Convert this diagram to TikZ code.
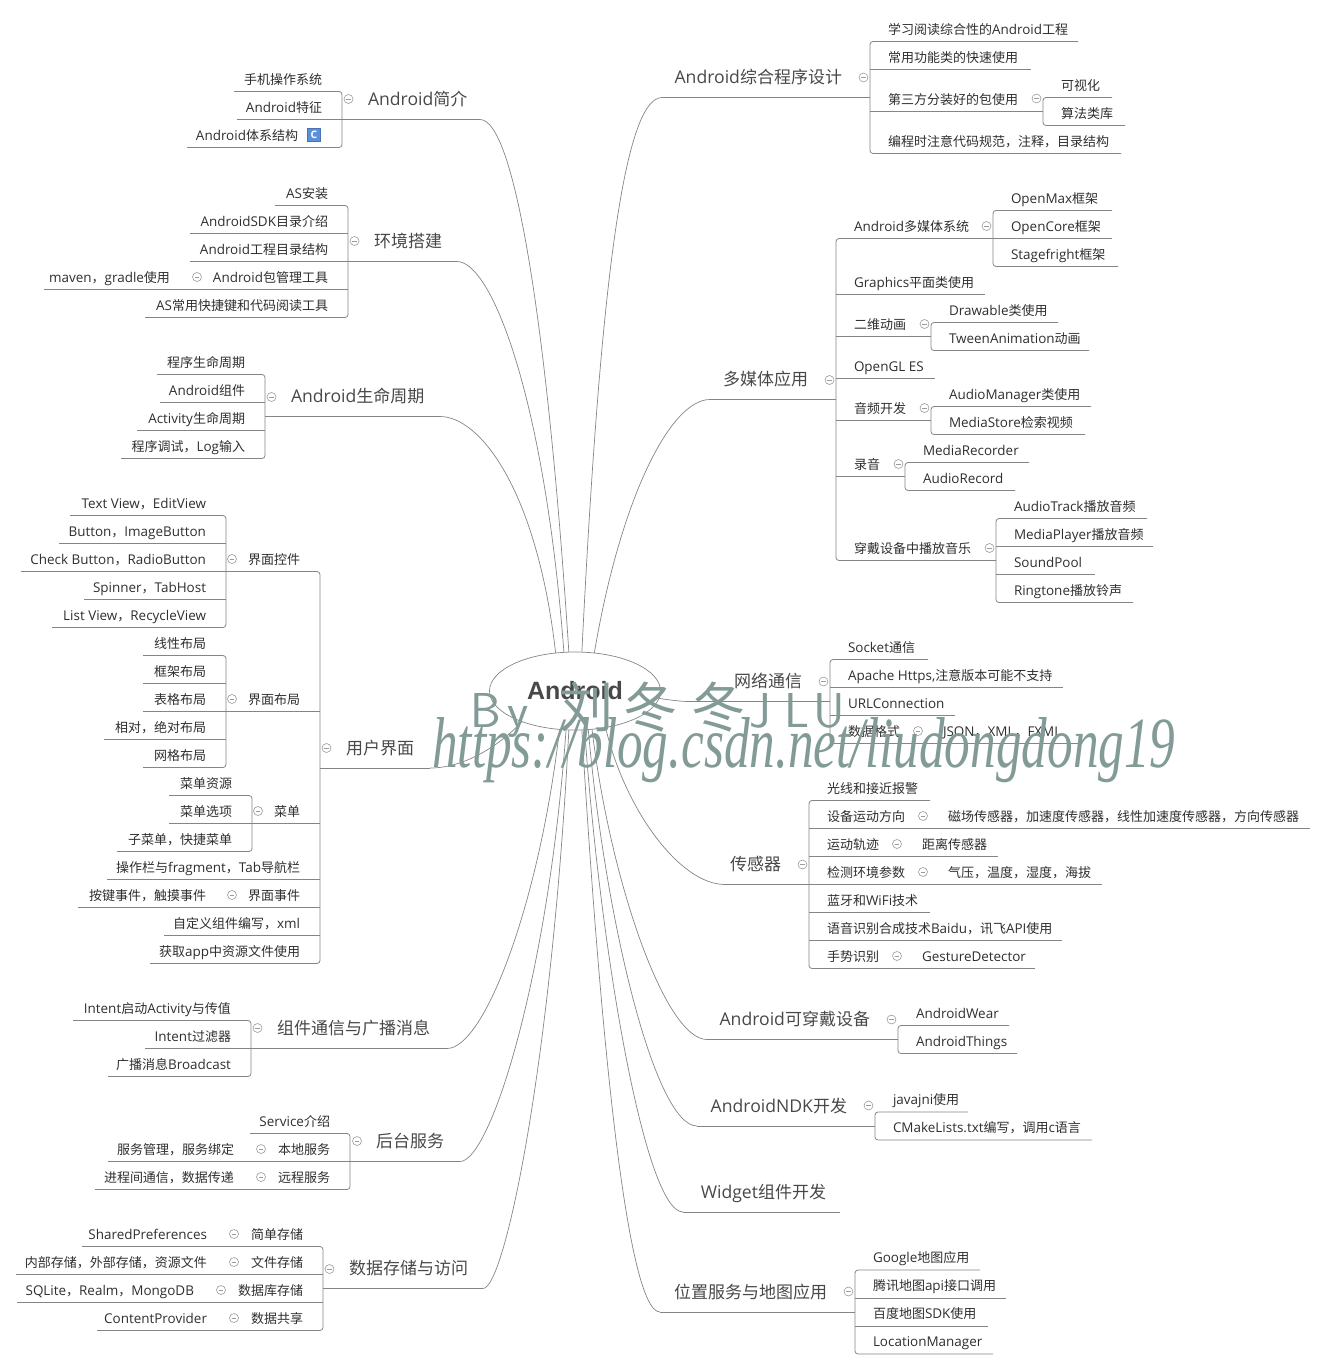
\documentclass[tikz,border=0pt]{standalone}
\usepackage{graphicx}
\usepackage{fontspec}
\usetikzlibrary{shapes.geometric}
\setmainfont{Open Sans}[Scale=1.035]
\newfontfamily\cjk{Noto Sans CJK SC}
\newfontfamily\urlfont{Liberation Serif}
\newfontfamily\rootfont{Liberation Sans}

% Chinese characters switch to the CJK family by themselves
\newXeTeXintercharclass\cjkclass
\newcount\cjkcode
\cjkcode="4E00
\loop
  \XeTeXcharclass\cjkcode=\cjkclass
  \ifnum\cjkcode<"9FFF \advance\cjkcode by 1
\repeat
\XeTeXcharclass"FF0C=\cjkclass
\XeTeXinterchartokenstate=1
\XeTeXinterchartoks 0 \cjkclass={\begingroup\cjk}
\XeTeXinterchartoks 4095 \cjkclass={\begingroup\cjk}
\XeTeXinterchartoks \cjkclass 0={\endgroup}
\XeTeXinterchartoks \cjkclass 4095={\endgroup}

\definecolor{linegray}{HTML}{858585}
\definecolor{foldgray}{HTML}{9A9A9A}
\definecolor{leaftext}{HTML}{2E2E2E}
\definecolor{maintext}{HTML}{484848}
\definecolor{markgreen}{HTML}{829B97}
\definecolor{iconblue}{HTML}{5B8FDC}

\tikzset{
  link/.style={draw=linegray, line width=0.8pt},
  curve/.style={draw=linegray, line width=0.7pt},
  itemnode/.style={anchor=south west, inner sep=0pt, outer sep=0pt, text=leaftext,
    font=\fontsize{13}{16}\selectfont, text height=10pt, text depth=7.5pt},
  mainnode/.style={anchor=south west, inner sep=0pt, outer sep=0pt, text=maintext,
    font=\fontsize{17}{20}\selectfont, text height=14pt, text depth=14pt},
  rootnode/.style={ellipse, draw=linegray, line width=0.7pt, minimum width=171pt, minimum height=78pt,
    inner sep=0pt, outer sep=0pt, text=maintext, font=\rootfont\bfseries\fontsize{25}{28}\selectfont},
  foldnode/.style={circle, draw=foldgray, fill=white, line width=0.6pt, minimum size=9pt, inner sep=0pt,
    path picture={\draw[foldgray, line width=0.6pt] ([xshift=2.2pt]path picture bounding box.west)
      -- ([xshift=-2.2pt]path picture bounding box.east);}},
  classicon/.style={fill=iconblue, draw=iconblue!80!black, line width=0.4pt, minimum size=13pt,
    inner sep=0pt, text=white, font=\bfseries\fontsize{10}{10}\selectfont},
  markurl/.style={anchor=north west, inner sep=0pt, text=markgreen},
  markby/.style={anchor=base west, inner sep=0pt, text=markgreen}
}

% name, x left, x right, y of the line under it, text
\newcommand{\itemR}[5]{\pgfmathsetmacro{\boxw}{#3-#2}%
  \node[itemnode] (#1) at (#2,#4) {\makebox[\boxw pt][l]{\hspace{18pt}#5}};}
\newcommand{\itemL}[5]{\pgfmathsetmacro{\boxw}{#3-#2}%
  \node[itemnode] (#1) at (#2,#4) {\makebox[\boxw pt][r]{#5\hspace{20pt}}};}
\newcommand{\mainR}[5]{\pgfmathsetmacro{\boxw}{#3-#2}%
  \node[mainnode] (#1) at (#2,#4) {\makebox[\boxw pt][r]{#5\hspace{28pt}}};}
\newcommand{\mainL}[5]{\pgfmathsetmacro{\boxw}{#3-#2}%
  \node[mainnode] (#1) at (#2,#4) {\makebox[\boxw pt][l]{\hspace{26pt}#5}};}
\newcommand{\markfold}[3]{\node[foldnode] (#1fold) at (#2,#3) {};}
% top item, items between (with the parent), bottom item
\newcommand{\spineR}[3]{\draw[link, rounded corners=3pt] (#1.south east) -- (#1.south west) -- (#3.south west) -- (#3.south east);
  \foreach \m in {#2} {\draw[link] (\m.south west) -- (\m.south east);}}
\newcommand{\spineL}[3]{\draw[link, rounded corners=3pt] (#1.south west) -- (#1.south east) -- (#3.south east) -- (#3.south west);
  \foreach \m in {#2} {\draw[link] (\m.south west) -- (\m.south east);}}

\begin{document}
\begin{tikzpicture}[x=1pt, y=-1pt]
  \useasboundingbox (0,0) rectangle (1327,1369);

  % Centre of the map
  \node[rootnode] (root) at (575,691) {Android};

  % Branch intro
  \mainL{intro}{342}{480}{119.5}{Android简介}
  \markfold{intro}{348.5}{99}
  \itemL{introa}{234}{342}{91.5}{手机操作系统}
  \itemL{introb}{237}{342}{119.5}{Android特征}
  \itemL{introc}{187}{342}{147.5}{Android体系结构\hspace{24pt}}
  \node[classicon] (introicon) at (314,135) {C};
  \spineL{introa}{introb,intro}{introc}
  \draw[curve] (intro.south east) .. controls (515,119.5) and (548,330) .. (root.99);

  % Branch env
  \mainL{env}{348}{457}{261.5}{环境搭建}
  \markfold{env}{354.5}{241}
  \itemL{enva}{275}{348}{205.5}{AS安装}
  \itemL{envb}{190}{348}{233.5}{AndroidSDK目录介绍}
  \itemL{envc}{190}{348}{261.5}{Android工程目录结构}
  \itemL{envd}{190}{348}{289.5}{Android包管理工具}
  \markfold{envd}{197}{277}
  \itemL{envdk}{44}{190}{289.5}{maven，gradle使用}
  \itemL{enve}{145}{348}{317.5}{AS常用快捷键和代码阅读工具}
  \spineL{enva}{envb,envc,envd,envdk,env}{enve}
  \draw[curve] (env.south east) .. controls (492,261.5) and (545,400) .. (root.106);

  % Branch life
  \mainL{life}{265}{440}{416.5}{Android生命周期}
  \markfold{life}{271.5}{397}
  \itemL{lifea}{157}{265}{374.5}{程序生命周期}
  \itemL{lifeb}{160}{265}{402.5}{Android组件}
  \itemL{lifec}{137}{265}{430.5}{Activity生命周期}
  \itemL{lifed}{121}{265}{458.5}{程序调试，Log输入}
  \spineL{lifea}{lifeb,lifec,life}{lifed}
  \draw[curve] (life.south east) .. controls (480,416.5) and (537,490) .. (root.117);

  % Branch ui
  \mainL{ui}{320}{430}{768}{用户界面}
  \markfold{ui}{326.5}{748}
  \itemL{uiw}{226}{320}{571.5}{界面控件}
  \markfold{uiw}{232}{559}
  \itemL{uiwa}{70}{226}{515.5}{Text View，EditView}
  \itemL{uiwb}{59}{226}{543.5}{Button，ImageButton}
  \itemL{uiwc}{21}{226}{571.5}{Check Button，RadioButton}
  \itemL{uiwd}{84}{226}{599.5}{Spinner，TabHost}
  \itemL{uiwe}{52}{226}{627.5}{List View，RecycleView}
  \spineL{uiwa}{uiwb,uiwc,uiwd}{uiwe}
  \itemL{uil}{226}{320}{711.5}{界面布局}
  \markfold{uil}{232}{699}
  \itemL{uila}{143}{226}{655.5}{线性布局}
  \itemL{uilb}{143}{226}{683.5}{框架布局}
  \itemL{uilc}{143}{226}{711.5}{表格布局}
  \itemL{uild}{104}{226}{739.5}{相对，绝对布局}
  \itemL{uile}{143}{226}{767.5}{网格布局}
  \spineL{uila}{uilb,uilc,uild}{uile}
  \itemL{uim}{252}{320}{823.5}{菜单}
  \markfold{uim}{258}{811}
  \itemL{uima}{169}{252}{795.5}{菜单资源}
  \itemL{uimb}{169}{252}{823.5}{菜单选项}
  \itemL{uimc}{117}{252}{851.5}{子菜单，快捷菜单}
  \spineL{uima}{uimb}{uimc}
  \itemL{uin}{107}{320}{879.5}{操作栏与fragment，Tab导航栏}
  \itemL{uie}{226}{320}{907.5}{界面事件}
  \markfold{uie}{232}{895}
  \itemL{uiek}{78}{226}{907.5}{按键事件，触摸事件}
  \itemL{uic}{164}{320}{935.5}{自定义组件编写，xml}
  \itemL{uir}{150}{320}{963.5}{获取app中资源文件使用}
  \spineL{uiw}{uil,uim,uin,uie,uiek,uic,ui}{uir}
  \draw[curve] (ui.south east) .. controls (465,768) and (500,745) .. (root.-150);

  % Branch msg
  \mainL{msg}{251}{447}{1048.5}{组件通信与广播消息}
  \markfold{msg}{257.5}{1028}
  \itemL{msga}{73}{251}{1020.5}{Intent启动Activity与传值}
  \itemL{msgb}{145}{251}{1048.5}{Intent过滤器}
  \itemL{msgc}{108}{251}{1076.5}{广播消息Broadcast}
  \spineL{msga}{msgb,msg}{msgc}
  \draw[curve] (msg.south east) .. controls (485,1048.5) and (540,900) .. (root.-112);

  % Branch srv
  \mainL{srv}{350}{460}{1161.5}{后台服务}
  \markfold{srv}{357}{1141}
  \itemL{srva}{250}{350}{1133.5}{Service介绍}
  \itemL{srvb}{254}{350}{1161.5}{本地服务}
  \markfold{srvb}{261}{1149}
  \itemL{srvbk}{108}{254}{1161.5}{服务管理，服务绑定}
  \itemL{srvc}{254}{350}{1189.5}{远程服务}
  \markfold{srvc}{261}{1177}
  \itemL{srvck}{95}{254}{1189.5}{进程间通信，数据传递}
  \spineL{srva}{srvb,srvbk,srvck,srv}{srvc}
  \draw[curve] (srv.south east) .. controls (490,1161.5) and (548,980) .. (root.-103);

  % Branch store
  \mainL{store}{323}{483}{1288.5}{数据存储与访问}
  \markfold{store}{329.5}{1269}
  \itemL{storea}{227}{323}{1246.5}{简单存储}
  \markfold{storea}{234}{1234}
  \itemL{storeak}{82}{227}{1246.5}{SharedPreferences}
  \itemL{storeb}{227}{323}{1274.5}{文件存储}
  \markfold{storeb}{234}{1262}
  \itemL{storebk}{16}{227}{1274.5}{内部存储，外部存储，资源文件}
  \itemL{storec}{214}{323}{1302.5}{数据库存储}
  \markfold{storec}{221}{1290}
  \itemL{storeck}{17}{214}{1302.5}{SQLite，Realm，MongoDB}
  \itemL{stored}{227}{323}{1330.5}{数据共享}
  \markfold{stored}{234}{1318}
  \itemL{storedk}{97}{227}{1330.5}{ContentProvider}
  \spineL{storea}{storeak,storeb,storebk,storec,storeck,storedk,store}{stored}
  \draw[curve] (store.south east) .. controls (505,1288.5) and (552,1060) .. (root.-99);

  % Branch prog
  \mainR{prog}{662}{870}{97.5}{Android综合程序设计}
  \markfold{prog}{863.5}{77.5}
  \itemR{proga}{870}{1078}{41.5}{学习阅读综合性的Android工程}
  \itemR{progb}{870}{1031}{69.5}{常用功能类的快速使用}
  \itemR{progc}{870}{1043}{111.5}{第三方分装好的包使用}
  \markfold{progc}{1036.5}{98.5}
  \itemR{progca}{1043}{1112}{97.5}{可视化}
  \itemR{progcb}{1043}{1125}{125.5}{算法类库}
  \spineR{progca}{progc}{progcb}
  \itemR{progd}{870}{1121}{153.5}{编程时注意代码规范，注释，目录结构}
  \spineR{proga}{progb,prog}{progd}
  \draw[curve] (prog.south west) .. controls (620,97.5) and (598,330) .. (root.80);

  % Branch media
  \mainR{media}{710}{836}{399.5}{多媒体应用}
  \markfold{media}{829.5}{380}
  \itemR{mediaa}{836}{993}{238.5}{Android多媒体系统}
  \markfold{mediaa}{986.5}{226}
  \itemR{mediaaa}{993}{1112}{210.5}{OpenMax框架}
  \itemR{mediaab}{993}{1112}{238.5}{OpenCore框架}
  \itemR{mediaac}{993}{1118}{266.5}{Stagefright框架}
  \spineR{mediaaa}{mediaab}{mediaac}
  \itemR{mediab}{836}{985}{294.5}{Graphics平面类使用}
  \itemR{mediac}{836}{931}{336.5}{二维动画}
  \markfold{mediac}{924.5}{324}
  \itemR{mediaca}{931}{1058}{322.5}{Drawable类使用}
  \itemR{mediacb}{931}{1089}{350.5}{TweenAnimation动画}
  \spineR{mediaca}{mediac}{mediacb}
  \itemR{mediad}{836}{935}{378.5}{OpenGL ES}
  \itemR{mediae}{836}{931}{420.5}{音频开发}
  \markfold{mediae}{924.5}{408}
  \itemR{mediaea}{931}{1091}{406.5}{AudioManager类使用}
  \itemR{mediaeb}{931}{1085}{434.5}{MediaStore检索视频}
  \spineR{mediaea}{mediae}{mediaeb}
  \itemR{mediaf}{836}{905}{476.5}{录音}
  \markfold{mediaf}{898.5}{464}
  \itemR{mediafa}{905}{1029}{462.5}{MediaRecorder}
  \itemR{mediafb}{905}{1015}{490.5}{AudioRecord}
  \spineR{mediafa}{mediaf}{mediafb}
  \itemR{mediag}{836}{996}{560.5}{穿戴设备中播放音乐}
  \markfold{mediag}{989.5}{548}
  \itemR{mediaga}{996}{1147}{518.5}{AudioTrack播放音频}
  \itemR{mediagb}{996}{1153}{546.5}{MediaPlayer播放音频}
  \itemR{mediagc}{996}{1095}{574.5}{SoundPool}
  \itemR{mediagd}{996}{1133}{602.5}{Ringtone播放铃声}
  \spineR{mediaga}{mediagb,mediagc}{mediagd}
  \spineR{mediaa}{mediab,mediac,mediad,mediae,mediaf,media}{mediag}
  \draw[curve] (media.south west) .. controls (670,399.5) and (620,500) .. (root.63);

  % Branch net
  \mainR{net}{690}{830}{701.5}{网络通信}
  \markfold{net}{823.5}{681.5}
  \itemR{neta}{830}{928}{659.5}{Socket通信}
  \itemR{netb}{830}{1063}{687.5}{Apache Https,注意版本可能不支持}
  \itemR{netc}{830}{955}{715.5}{URLConnection}
  \itemR{netd}{830}{925}{743.5}{数据格式}
  \markfold{netd}{918}{731}
  \itemR{netdk}{925}{1078}{743.5}{JSON，XML，FXML}
  \spineR{neta}{netb,netc,netdk,net}{netd}
  \draw[curve] (net.south west) .. controls (680,701.5) and (670,700) .. (root.-5);

  % Branch sensor
  \mainR{sensor}{725}{809}{884.5}{传感器}
  \markfold{sensor}{802.5}{864.5}
  \itemR{sensora}{809}{930}{800.5}{光线和接近报警}
  \itemR{sensorb}{809}{930}{828.5}{设备运动方向}
  \markfold{sensorb}{923}{816}
  \itemR{sensorbk}{930}{1310}{828.5}{磁场传感器，加速度传感器，线性加速度传感器，方向传感器}
  \itemR{sensorc}{809}{904}{856.5}{运动轨迹}
  \markfold{sensorc}{897}{844}
  \itemR{sensorck}{904}{998}{856.5}{距离传感器}
  \itemR{sensord}{809}{930}{884.5}{检测环境参数}
  \markfold{sensord}{923}{872}
  \itemR{sensordk}{930}{1102}{884.5}{气压，温度，湿度，海拔}
  \itemR{sensore}{809}{930}{912.5}{蓝牙和WiFi技术}
  \itemR{sensorf}{809}{1062}{940.5}{语音识别合成技术Baidu，讯飞API使用}
  \itemR{sensorg}{809}{904}{968.5}{手势识别}
  \markfold{sensorg}{897}{956}
  \itemR{sensorgk}{904}{1035}{968.5}{GestureDetector}
  \spineR{sensora}{sensorb,sensorbk,sensorc,sensorck,sensord,sensordk,sensore,sensorf,sensorgk,sensor}{sensorg}
  \draw[curve] (sensor.south west) .. controls (680,884.5) and (625,810) .. (root.-50);

  % Branch wear
  \mainR{wear}{707}{898}{1039.5}{Android可穿戴设备}
  \markfold{wear}{891.5}{1019.5}
  \itemR{weara}{898}{1009}{1025.5}{AndroidWear}
  \itemR{wearb}{898}{1017}{1053.5}{AndroidThings}
  \spineR{weara}{wear}{wearb}
  \draw[curve] (wear.south west) .. controls (665,1039.5) and (610,880) .. (root.-66);

  % Branch ndk
  \mainR{ndk}{697}{875}{1126}{AndroidNDK开发}
  \markfold{ndk}{868.5}{1105.5}
  \itemR{ndka}{875}{968}{1112}{javajni使用}
  \itemR{ndkb}{875}{1092}{1140}{CMakeLists.txt编写，调用c语言}
  \spineR{ndka}{ndk}{ndkb}
  \draw[curve] (ndk.south west) .. controls (655,1126) and (605,920) .. (root.-71);

  % Branch widget
  \mainR{widget}{683}{840}{1212}{Widget组件开发\hspace{-14pt}}
  \draw[link] (widget.south west) -- (widget.south east);
  \draw[curve] (widget.south west) .. controls (645,1212) and (600,950) .. (root.-76);

  % Branch map
  \mainR{map}{660}{855}{1312}{位置服务与地图应用}
  \markfold{map}{848.5}{1291.5}
  \itemR{mapa}{855}{980}{1270}{Google地图应用}
  \itemR{mapb}{855}{1006}{1298}{腾讯地图api接口调用}
  \itemR{mapc}{855}{988}{1326}{百度地图SDK使用}
  \itemR{mapd}{855}{993}{1354}{LocationManager}
  \spineR{mapa}{mapb,mapc,map}{mapd}
  \draw[curve] (map.south west) .. controls (625,1312) and (598,1000) .. (root.-80);

  % Watermark over the map
  \node[markby, font=\sffamily\fontsize{49}{52}\selectfont] (markname) at (470,727)
    {B\hspace{7pt}y\hspace{30pt}{\fontsize{54}{56}\selectfont 刘\hspace{10pt}冬\hspace{14pt}冬}\hspace{4pt}J\hspace{14pt}L\hspace{4pt}U};
  \node[markurl] (markaddr) at (432,717)
    {\resizebox{743pt}{50pt}{\urlfont\itshape https://blog.csdn.net/liudongdong19}};
\end{tikzpicture}
\end{document}
